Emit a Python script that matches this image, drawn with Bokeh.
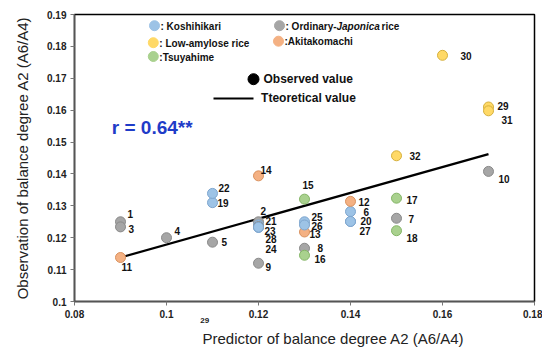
from bokeh.plotting import figure
from bokeh.models import ColumnDataSource, FixedTicker, CustomJSTickFormatter, LinearAxis, Title
from bokeh.core.properties import value
from bokeh.embed import file_html
from bokeh.resources import INLINE

# ---------------- data ----------------
ids = ["1", "2", "3", "4", "5", "6", "7", "8", "9", "10",
       "11", "12", "13", "14", "15", "16", "17", "18", "19", "20",
       "21", "22", "23", "24", "25", "26", "27", "28", "29", "30",
       "31", "32"]
predicted = [0.09, 0.12, 0.09, 0.10, 0.11, 0.14, 0.15, 0.13, 0.12, 0.17,
             0.09, 0.14, 0.13, 0.12, 0.13, 0.13, 0.15, 0.15, 0.11, 0.14,
             0.12, 0.11, 0.12, 0.12, 0.13, 0.13, 0.14, 0.12, 0.17, 0.16,
             0.17, 0.15]
observed = [0.1250, 0.1250, 0.1234, 0.1200, 0.1186, 0.1282, 0.1261, 0.1167, 0.1120, 0.1408,
            0.1138, 0.1314, 0.1218, 0.1394, 0.1321, 0.1145, 0.1324, 0.1222, 0.1310, 0.1251,
            0.1240, 0.1339, 0.1232, 0.1235, 0.1250, 0.1240, 0.1251, 0.1233, 0.1610, 0.1772,
            0.1598, 0.1457]
groups = ["O", "O", "O", "O", "O", "K", "O", "O", "O", "O",
          "A", "A", "A", "A", "T", "T", "T", "T", "K", "K",
          "K", "K", "K", "O", "K", "K", "K", "K", "L", "L",
          "L", "L"]
theory_x = [0.09, 0.17]
theory_y = [0.1138, 0.1462]
r_text = "r = 0.64**"
x_ticks = [0.08, 0.10, 0.12, 0.14, 0.16, 0.18]
y_ticks = [0.10, 0.11, 0.12, 0.13, 0.14, 0.15, 0.16, 0.17, 0.18, 0.19]
stray_tick = [0.1083]
stray_label = "29"
legend_groups = ["K", "O", "L", "A", "T"]
legend_names = [": Koshihikari", ": Ordinary-", ": Low-amylose rice", ":Akitakomachi", ":Tsuyahime"]
x_title = "Predictor of balance degree A2 (A6/A4)"
y_title = "Observation of balance degree A2 (A6/A4)"

# ---------------- styles / layout ----------------
fill = {"K": "#9dc3e6", "O": "#a6a6a6", "L": "#ffd966", "A": "#f4b183", "T": "#a9d18e"}
edge = {"K": "#7ea6cf", "O": "#8a8a8a", "L": "#d6b03c", "A": "#d9915e", "T": "#84b566"}
# label offsets (screen px) relative to each point
lab_dx = [7, 2, 8, 8, 9, 13, 12, 13, 7, 10,
          1, 8, 5, 2, -2, 10, 10, 10, 5, 10,
          7, 6, 6, 7, 7, 7, 9, 7, 9, 18,
          13, 13]
lab_dy = [-8, -11, 2, -7, 0, 0, 1, 0, 4, 8,
          10, 1, 2, -6, -14, 4, 2, 7, 0, 0,
          -4, -5, 3, 22, -5, 1, 10, 12, -1, 1,
          9, 0]

X0, X1, Y0, Y1 = 0.08, 0.18, 0.10, 0.19
FW, FH = 460, 287
FONT = "Liberation Sans"


def px2x(px):
    return X0 + (px - 64.7) / FW * (X1 - X0)


def py2y(py):
    return Y1 - (py - 7.3) / FH * (Y1 - Y0)


p = figure(frame_width=FW, frame_height=FH, x_range=(X0, X1), y_range=(Y0, Y1),
           output_backend="svg", toolbar_location=None,
           min_border_left=74, min_border_right=8, min_border_top=14, min_border_bottom=30)
p.background_fill_color = "white"
p.border_fill_color = "white"
p.xgrid.visible = False
p.ygrid.visible = False
p.outline_line_color = "black"
p.outline_line_width = 1.5

fmt = CustomJSTickFormatter(code="var s = tick.toFixed(2); if (s.endsWith('0')) s = s.slice(0, -1); return s;")
for ax in (p.xaxis[0], p.yaxis[0]):
    ax.formatter = fmt
    ax.major_label_text_font = FONT
    ax.major_label_text_font_style = "bold"
    ax.major_label_text_font_size = "10px"
    ax.major_label_text_color = "#222222"
    ax.axis_line_color = "#555555"
    ax.axis_line_width = 1.5
    ax.major_tick_line_color = "#777777"
    ax.major_tick_in = 0
    ax.major_tick_out = 4
    ax.minor_tick_line_color = None
p.xaxis[0].ticker = FixedTicker(ticks=x_ticks)
p.yaxis[0].ticker = FixedTicker(ticks=y_ticks)
p.xaxis[0].major_label_standoff = 4
p.yaxis[0].major_label_standoff = 4
p.yaxis[0].axis_label = y_title
p.yaxis[0].axis_label_text_font = FONT
p.yaxis[0].axis_label_text_font_style = "normal"
p.yaxis[0].axis_label_text_font_size = "15px"
p.yaxis[0].axis_label_text_color = "#222222"
p.yaxis[0].axis_label_standoff = 13

# stray "29" label under the axis
stray_axis = LinearAxis(ticker=FixedTicker(ticks=stray_tick),
                        formatter=CustomJSTickFormatter(code="return '%s';" % stray_label))
stray_axis.axis_line_color = None
stray_axis.major_tick_line_color = None
stray_axis.minor_tick_line_color = None
stray_axis.major_tick_out = 0
stray_axis.major_tick_in = 0
stray_axis.major_label_standoff = -3
stray_axis.major_label_text_font = FONT
stray_axis.major_label_text_font_style = "bold"
stray_axis.major_label_text_font_size = "8px"
stray_axis.major_label_text_color = "#222222"
p.add_layout(stray_axis, "below")

# x title
p.add_layout(Title(text=x_title, align="left", offset=128, text_font=FONT,
                   text_font_style="normal", text_font_size="15px", text_color="#222222",
                   standoff=5), "below")

# theoretical line
p.line(theory_x, theory_y, line_color="black", line_width=2.2)

# points
src = ColumnDataSource(dict(
    x=predicted, y=observed, id=ids,
    fill=[fill[g] for g in groups], edge=[edge[g] for g in groups],
    dx=lab_dx, dy=lab_dy))
p.scatter("x", "y", source=src, size=10, fill_color="fill", line_color="edge", line_width=1)
p.text("x", "y", text="id", source=src, x_offset="dx", y_offset="dy",
       text_font=value(FONT), text_font_style="bold", text_font_size="10px",
       text_color="#111111", text_align="left", text_baseline="middle")

# r text
p.text([px2x(102)], [py2y(120)], text=[r_text], text_font=value(FONT),
       text_font_style="bold", text_font_size="19px", text_color="#1f3cc8",
       text_align="left", text_baseline="middle")

# legend
leg_pos = [(144.7, 18.5), (269.7, 18.5), (143.5, 35.5), (268.7, 34), (143.5, 49.3)]
for g, name, (cx, cy) in zip(legend_groups, legend_names, leg_pos):
    p.scatter([px2x(cx)], [py2y(cy)], size=10, fill_color=fill[g], line_color=fill[g])
    p.text([px2x(cx + 6)], [py2y(cy + 0.5)], text=[name], text_font=value(FONT),
           text_font_style="bold", text_font_size="10px", text_color="#111111",
           text_align="left", text_baseline="middle")
# italic Japonica + rice
p.text([px2x(269.7 + 6 + 51)], [py2y(19)], text=["Japonica"], text_font=value(FONT),
       text_font_style="bold italic", text_font_size="10px", text_color="#111111",
       text_align="left", text_baseline="middle")
p.text([px2x(269.7 + 6 + 96)], [py2y(19)], text=["rice"], text_font=value(FONT),
       text_font_style="bold", text_font_size="10px", text_color="#111111",
       text_align="left", text_baseline="middle")

p.scatter([px2x(243.7)], [py2y(72)], size=11, fill_color="black", line_color="black")
p.text([px2x(253.7)], [py2y(72)], text=["Observed value"], text_font=value(FONT),
       text_font_style="bold", text_font_size="12px", text_color="#111111",
       text_align="left", text_baseline="middle")
p.line([px2x(203.7), px2x(243.7)], [py2y(91.3), py2y(91.3)], line_color="black", line_width=2)
p.text([px2x(251.3)], [py2y(90.7)], text=["Tteoretical value"], text_font=value(FONT),
       text_font_style="bold", text_font_size="12px", text_color="#111111",
       text_align="left", text_baseline="middle")

open("out.html", "w").write(file_html(p, INLINE))
